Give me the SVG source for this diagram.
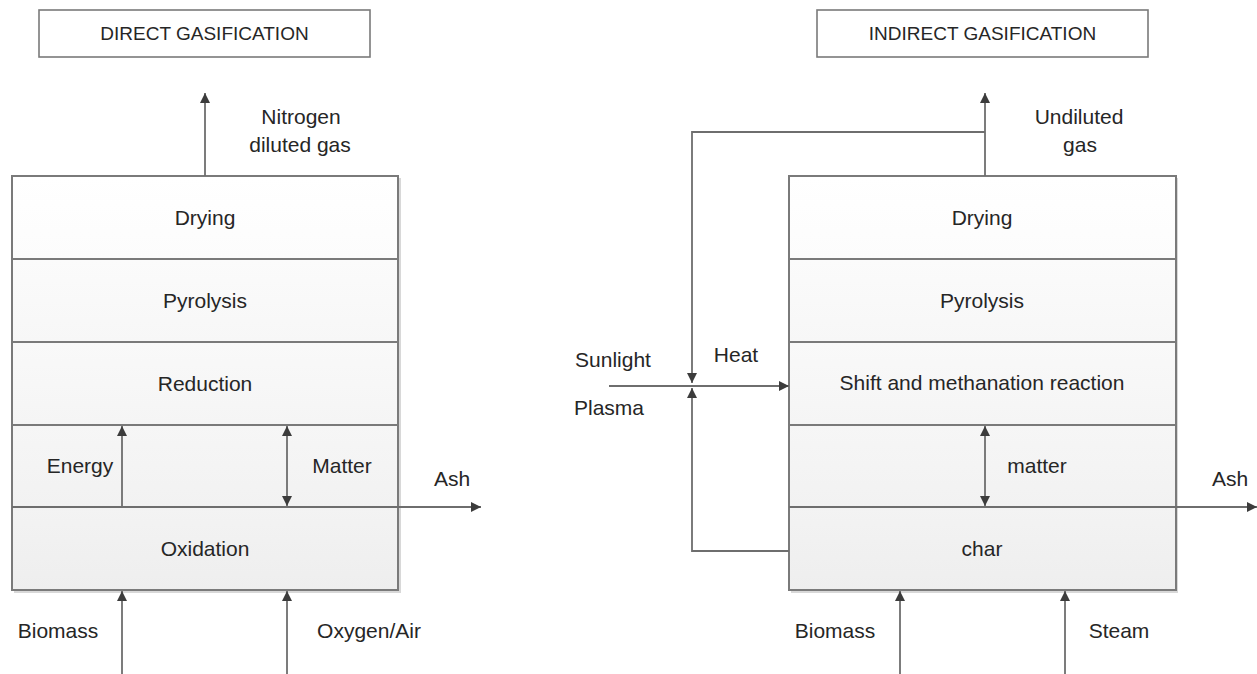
<svg xmlns="http://www.w3.org/2000/svg" width="1257" height="674" viewBox="0 0 1257 674">
<defs>
<marker id="arr" viewBox="0 0 10 10" refX="10" refY="5" markerWidth="12" markerHeight="10" markerUnits="userSpaceOnUse" orient="auto-start-reverse">
<path d="M0,0 L10,5 L0,10 z" fill="#3c3c3c"/>
</marker>
<linearGradient id="g1" x1="0" y1="0" x2="0" y2="1"><stop offset="0" stop-color="#ffffff"/><stop offset="1" stop-color="#fcfcfc"/></linearGradient>
<linearGradient id="g2" x1="0" y1="0" x2="0" y2="1"><stop offset="0" stop-color="#fbfbfb"/><stop offset="1" stop-color="#f7f7f7"/></linearGradient>
<linearGradient id="g3" x1="0" y1="0" x2="0" y2="1"><stop offset="0" stop-color="#f9f9f9"/><stop offset="1" stop-color="#f5f5f5"/></linearGradient>
<linearGradient id="g4" x1="0" y1="0" x2="0" y2="1"><stop offset="0" stop-color="#f6f6f6"/><stop offset="1" stop-color="#f2f2f2"/></linearGradient>
<linearGradient id="g5" x1="0" y1="0" x2="0" y2="1"><stop offset="0" stop-color="#f3f3f3"/><stop offset="1" stop-color="#eeeeee"/></linearGradient>
</defs>
<style>
text{font-family:"Liberation Sans",Arial,sans-serif;font-size:21px;fill:#262626;text-anchor:middle}
.title{font-size:19px}
.box{fill:#ffffff;stroke:#7a7a7a;stroke-width:1.6}
.layer{stroke:#7a7a7a;stroke-width:2}
.shadow{fill:#d8d8d8}
.ln{fill:none;stroke:#6e6e6e;stroke-width:1.8}
.a{marker-end:url(#arr)}
.aa{marker-start:url(#arr);marker-end:url(#arr)}
</style>
<rect width="1257" height="674" fill="#ffffff"/>

<g id="title-direct"><rect class="box" x="39" y="10" width="331" height="47"/><text class="title" x="204.5" y="40">DIRECT GASIFICATION</text></g>
<g id="title-indirect"><rect class="box" x="817" y="10" width="331" height="47"/><text class="title" x="982.5" y="40">INDIRECT GASIFICATION</text></g>

<g id="reactor-direct">
<rect class="shadow" x="14" y="178" width="387" height="415"/>
<rect class="layer" x="12" y="176" width="386" height="83" fill="url(#g1)"/>
<rect class="layer" x="12" y="259" width="386" height="83" fill="url(#g2)"/>
<rect class="layer" x="12" y="342" width="386" height="83" fill="url(#g3)"/>
<rect class="layer" x="12" y="425" width="386" height="82" fill="url(#g4)"/>
<rect class="layer" x="12" y="507" width="386" height="83" fill="url(#g5)"/>
<text x="205" y="225">Drying</text>
<text x="205" y="308">Pyrolysis</text>
<text x="205" y="391">Reduction</text>
<text x="80" y="473">Energy</text>
<text x="342" y="473">Matter</text>
<text x="205" y="556">Oxidation</text>
</g>

<g id="reactor-indirect">
<rect class="shadow" x="791" y="178" width="387" height="415"/>
<rect class="layer" x="789" y="176" width="387" height="83" fill="url(#g1)"/>
<rect class="layer" x="789" y="259" width="387" height="83" fill="url(#g2)"/>
<rect class="layer" x="789" y="342" width="387" height="83" fill="url(#g3)"/>
<rect class="layer" x="789" y="425" width="387" height="82" fill="url(#g4)"/>
<rect class="layer" x="789" y="507" width="387" height="83" fill="url(#g5)"/>
<text x="982" y="225">Drying</text>
<text x="982" y="308">Pyrolysis</text>
<text x="982" y="390">Shift and methanation reaction</text>
<text x="1037" y="473">matter</text>
<text x="982" y="556">char</text>
</g>

<g id="labels">
<text x="301" y="124">Nitrogen</text>
<text x="300" y="152">diluted gas</text>
<text x="452" y="486">Ash</text>
<text x="58" y="638">Biomass</text>
<text x="369" y="638">Oxygen/Air</text>
<text x="1079" y="124">Undiluted</text>
<text x="1080" y="152">gas</text>
<text x="613" y="367">Sunlight</text>
<text x="609" y="415">Plasma</text>
<text x="736" y="362">Heat</text>
<text x="1230" y="486">Ash</text>
<text x="835" y="638">Biomass</text>
<text x="1119" y="638">Steam</text>
</g>

<g id="connectors">
<line class="ln a" x1="205" y1="176" x2="205" y2="93"/>
<line class="ln a" x1="122" y1="507" x2="122" y2="426"/>
<line class="ln aa" x1="287" y1="426" x2="287" y2="506"/>
<line class="ln a" x1="12" y1="507" x2="481" y2="507"/>
<line class="ln a" x1="122" y1="674" x2="122" y2="591"/>
<line class="ln a" x1="287" y1="674" x2="287" y2="591"/>

<line class="ln a" x1="985" y1="176" x2="985" y2="93"/>
<polyline class="ln a" points="985,132 692,132 692,383"/>
<polyline class="ln a" points="789,551 692,551 692,388"/>
<line class="ln a" x1="609" y1="386" x2="789" y2="386"/>
<line class="ln aa" x1="985" y1="426" x2="985" y2="506"/>
<line class="ln a" x1="789" y1="507" x2="1257" y2="507"/>
<line class="ln a" x1="900" y1="674" x2="900" y2="591"/>
<line class="ln a" x1="1065" y1="674" x2="1065" y2="591"/>
</g>
</svg>
